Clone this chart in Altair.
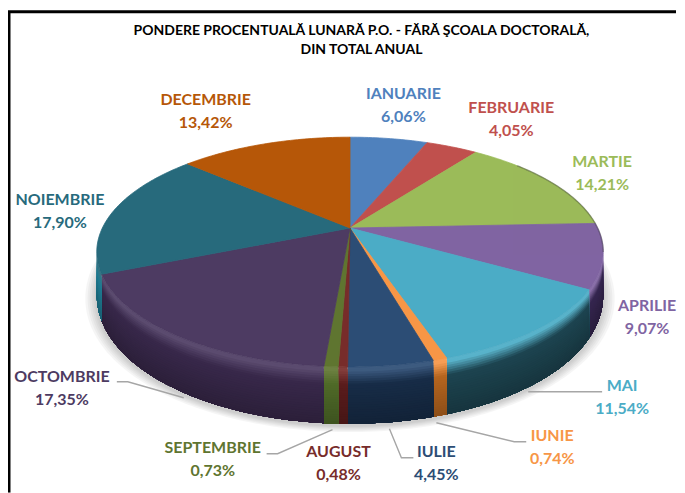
import numpy as np
import altair as alt

months = ["IANUARIE","FEBRUARIE","MARTIE","APRILIE","MAI","IUNIE","IULIE","AUGUST","SEPTEMBRIE","OCTOMBRIE","NOIEMBRIE","DECEMBRIE"]
values = [6.06,4.05,14.21,9.07,11.54,0.74,4.45,0.48,0.73,17.35,17.90,13.42]
value_labels = ["6,06%","4,05%","14,21%","9,07%","11,54%","0,74%","4,45%","0,48%","0,73%","17,35%","17,90%","13,42%"]
top_colors = ["#4f81bd","#c0504d","#9bbb59","#8064a2","#4bacc6","#f79646","#2c4d75","#772c2a","#5f7530","#4d3b62","#276a7c","#b65708"]
wall_colors = ["#35557d","#7f3533","#67793b","#35264f","#1d4450","#b5651f","#172c47","#5a1c1c","#4f6a28","#38284a","#1f7b92","#7a3a05"]
title_lines = ["PONDERE PROCENTUALĂ LUNARĂ P.O. - FĂRĂ ŞCOALA DOCTORALĂ,", "DIN TOTAL ANUAL"]

# layout (page pixels)
label_pos = [(404,94),(512,108),(603,162),(648,306),(623,386),(553,436),(437,452),(339,452),(213,448),(62,377),(60,200),(206,100)]
leaders = [
    [(117,382),(128,382),(184,398)],
    [(267,454),(278,454),(333,430)],
    [(414,458),(402,458),(390,429)],
    [(527,442),(515,442),(437,423)],
    [(603,392),(529,392)],
]
OX, OY = 8, 8
CX, CY = 350.5, 228
A, B, K = 248.0, 110.0, 0.209
WALL_SIDE, WALL_FRONT = 40.0, 17.0


def rim(theta):
    down = -np.cos(theta)
    d = 1 - K * down
    return CX + A * np.sin(theta) / d, CY + B * down / d


def wall_h(theta):
    down = np.maximum(-np.cos(theta), 0)
    return WALL_SIDE + WALL_FRONT * down


def hex2rgb(c):
    return np.array([int(c[i:i + 2], 16) for i in (1, 3, 5)], float)


def mix(a, b, f):
    v = hex2rgb(a) * (1 - f) + hex2rgb(b) * f
    return "#%02x%02x%02x" % tuple(int(round(x)) for x in np.clip(v, 0, 255))


def pts(xs, ys):
    return [[float(x - OX), float(y - OY)] for x, y in zip(xs, ys)]


def poly(xs, ys, fill, opacity=1.0, stroke=True):
    p = pts(xs, ys)
    p.append(p[0])
    return {"type": "Feature", "geometry": {"type": "Polygon", "coordinates": [p]},
            "properties": {"fill": fill, "opacity": opacity, "stroke": fill if stroke else "transparent"}}


edges = np.concatenate([[0], np.cumsum(values)]) / sum(values) * 2 * np.pi
vis0, vis1 = np.arccos(-K), 2 * np.pi - np.arccos(-K)

shadow_feats = []
tt = np.linspace(0, 2 * np.pi, 361)
for e in [0.045, 0.036, 0.028, 0.02, 0.013, 0.007]:
    x, y = rim(tt)
    shadow_feats.append(poly(CX + (x - CX) * (1 + e), CY + (y - CY) * (1 + e) + wall_h(tt) + 2,
                             "#808080", 0.07, stroke=False))

N = 24
wall_feats = []
for i in range(12):
    a0, a1 = max(edges[i], vis0), min(edges[i + 1], vis1)
    if a1 <= a0:
        continue
    t = np.linspace(a0, a1, max(3, int((a1 - a0) * 60)))
    x, y = rim(t)
    h = wall_h(t)
    for b in range(N):
        f0 = b / N
        fm = (b + 0.5) / N
        if fm < 0.06:
            c = mix(top_colors[i], "#ffffff", 0.08)
        elif fm < 0.3:
            c = mix(mix(top_colors[i], "#ffffff", 0.08), wall_colors[i], (fm - 0.06) / 0.24)
        else:
            c = mix(wall_colors[i], "#000000", 0.22 * (fm - 0.3) / 0.7)
        xs = np.concatenate([x, x[::-1]])
        ys = np.concatenate([y + h * f0, (y + h)[::-1]])
        wall_feats.append(poly(xs, ys, c, stroke=False))

top_feats = []
for i in range(12):
    t = np.linspace(edges[i], edges[i + 1], max(3, int((edges[i + 1] - edges[i]) * 60)))
    x, y = rim(t)
    top_feats.append(poly(np.concatenate([[CX], x]), np.concatenate([[CY], y]), top_colors[i]))

# dark soft edge on the right shoulder of the top face
ts = np.linspace(np.radians(50), vis0, 60)
xs_, ys_ = rim(ts)
edge_feats = [{"type": "Feature",
               "geometry": {"type": "LineString", "coordinates": pts(xs_, ys_)},
               "properties": {"stroke": "#303030"}}]

leader_feats = [{"type": "Feature",
                 "geometry": {"type": "LineString", "coordinates": [[px - OX, py - OY] for px, py in l]},
                 "properties": {"stroke": "#a6a6a6"}} for l in leaders]

# frame
W, H = 669, 485
frame_feats = [
    {"type": "Feature", "geometry": {"type": "LineString", "coordinates": [[1.0, H], [1.0, 3.5], [W, 3.5]]},
     "properties": {"stroke": "#000000"}}
]

PROJ = {"type": "identity", "scale": 1, "translate": [0, 0]}


def filled(feats):
    return alt.Chart(alt.Data(values=feats)).mark_geoshape(strokeWidth=0.8).encode(
        fill=alt.Fill("properties.fill:N", scale=None),
        stroke=alt.Stroke("properties.stroke:N", scale=None),
        opacity=alt.Opacity("properties.opacity:Q", scale=None),
    ).project(**PROJ)


def lines(feats, width, opacity=1.0):
    return alt.Chart(alt.Data(values=feats)).mark_geoshape(filled=False, strokeWidth=width, opacity=opacity).encode(
        stroke=alt.Stroke("properties.stroke:N", scale=None),
    ).project(**PROJ)


rows = []
for i, m in enumerate(months):
    px, py = label_pos[i]
    rows.append({"t": m, "x": px - OX, "y": py - OY, "c": top_colors[i]})
    rows.append({"t": value_labels[i], "x": px - OX, "y": py + 23 - OY, "c": top_colors[i]})

labels = alt.Chart(alt.Data(values=rows)).mark_text(
    font="Lato", fontWeight="bold", fontSize=16, align="center", baseline="middle"
).encode(
    x=alt.X("x:Q", scale=None), y=alt.Y("y:Q", scale=None),
    text="t:N", color=alt.Color("c:N", scale=None),
)

title_rows = [{"t": title_lines[0], "x": 362 - OX, "y": 31 - OY}, {"t": title_lines[1], "x": 362 - OX, "y": 50 - OY}]
title = alt.Chart(alt.Data(values=title_rows)).mark_text(
    font="Lato", fontWeight="bold", fontSize=14, align="center", baseline="middle", color="#000000"
).encode(x=alt.X("x:Q", scale=None), y=alt.Y("y:Q", scale=None), text="t:N")

chart = alt.layer(
    filled(shadow_feats),
    filled(wall_feats),
    filled(top_feats),
    lines(edge_feats, 1.5, 0.35),
    lines(leader_feats, 1.4),
    lines(frame_feats, 3),
    labels,
    title,
).properties(width=W, height=H, padding=0, background="white").configure_view(stroke=None)

chart.save("out.html", embed_options={"renderer": "svg", "actions": False})
